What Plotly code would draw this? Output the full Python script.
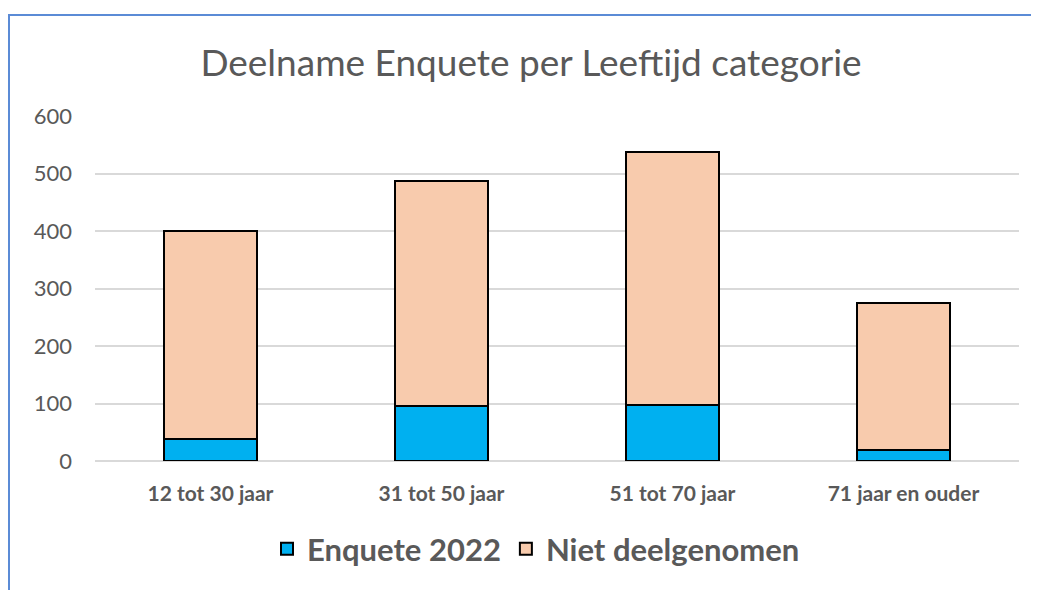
import plotly.graph_objects as go

categories = ["12 tot 30 jaar", "31 tot 50 jaar", "51 tot 70 jaar", "71 jaar en ouder"]
enquete_2022 = [38, 96, 98, 20]
niet_deelgenomen = [362, 391, 440, 255]

W, H = 1039, 590
OFF = 8  # page body margin
L, R, T, B = 95 - OFF, 20 + OFF, 116 - OFF, 129 + OFF
pw, ph = W - L - R, H - T - B
ybase = H - B  # pixel row of y=0 inside the figure


def px_x(x):
    return (x - OFF - L) / pw


def px_y(y):
    return (ybase - (y - OFF)) / ph


fig = go.Figure()
fig.add_trace(go.Bar(x=categories, y=enquete_2022, name="Enquete 2022",
                     marker=dict(color="#00B0F0", line=dict(color="#000000", width=2))))
fig.add_trace(go.Bar(x=categories, y=niet_deelgenomen, name="Niet deelgenomen",
                     marker=dict(color="#F8CBAD", line=dict(color="#000000", width=2))))

# outer chart border (blue frame, cut off at the bottom)
fig.add_shape(type="rect", xref="paper", yref="paper",
              x0=px_x(9), x1=px_x(1033), y0=px_y(640), y1=px_y(15),
              line=dict(color="#5B8BD6", width=2), layer="below")

fig.update_layout(
    width=W, height=H,
    margin=dict(l=L, r=R, t=T, b=B),
    barmode="stack", bargap=0.6,
    plot_bgcolor="white", paper_bgcolor="white",
    title=dict(text="Deelname Enquete per Leeftijd categorie",
               x=px_x(531), xref="paper", xanchor="center",
               y=1 - (63 - OFF) / H, yanchor="middle",
               font=dict(family="Lato", size=37, color="#595959")),
    xaxis=dict(showline=False, ticks="", ticklabelstandoff=18,
               tickfont=dict(family="Lato", size=21, color="#595959", weight="bold")),
    yaxis=dict(range=[0, 600], dtick=100, showgrid=True, gridcolor="#D9D9D9", gridwidth=2,
               zeroline=True, zerolinecolor="#D9D9D9", zerolinewidth=2,
               ticklabelstandoff=22,
               tickfont=dict(family="Lato", size=22, color="#595959")),
    legend=dict(orientation="h", x=px_x(536), xanchor="center", y=px_y(549),
                yanchor="middle", itemwidth=30,
                font=dict(family="Lato", size=31, color="#595959", weight="bold"),
                traceorder="normal"),
    showlegend=True,
)

fig.write_html("out.html")
